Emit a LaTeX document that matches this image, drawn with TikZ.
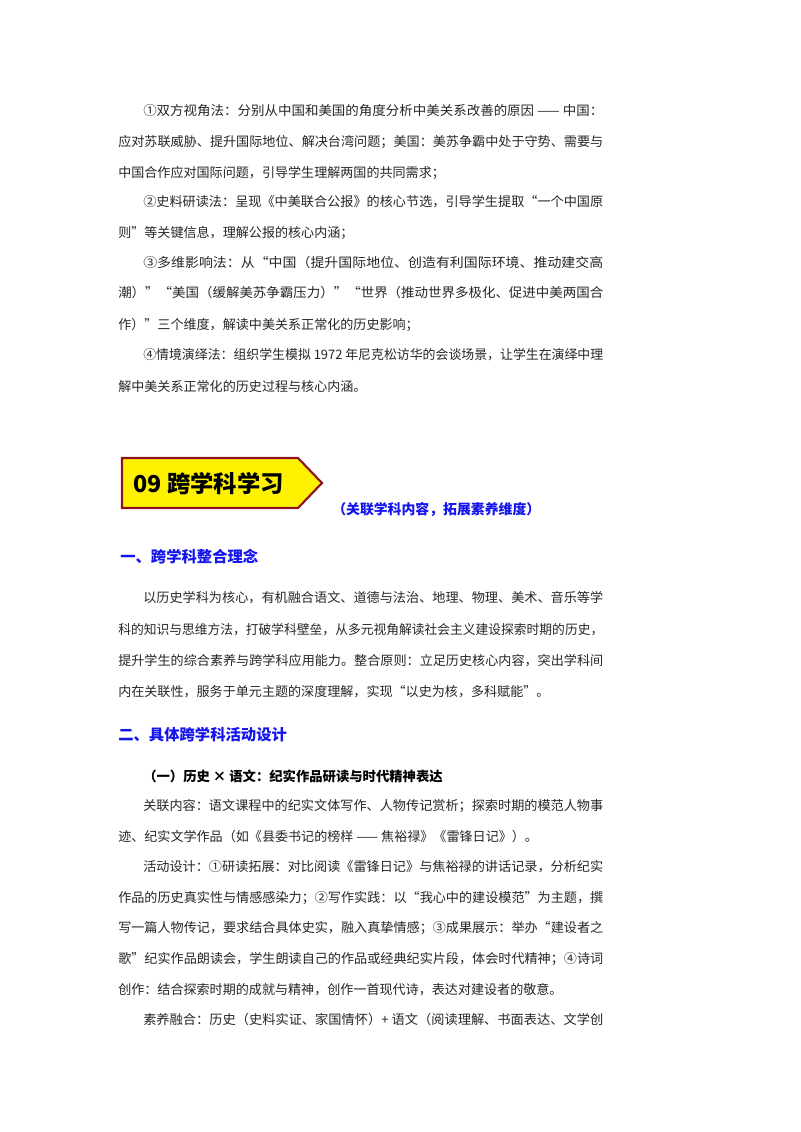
\documentclass[tikz,border=0pt]{standalone}
\usepackage{fontspec}
\setmainfont{Noto Sans CJK SC}
\definecolor{hblue}{RGB}{20,20,240}
\definecolor{bred}{RGB}{140,20,30}
\newcommand{\lnA}[1]{\resizebox{345pt}{\height}{#1}}
\newcommand{\lnB}[1]{\resizebox{363.75pt}{\height}{#1}}
\begin{document}
\begin{tikzpicture}[x=0.75pt,y=-0.75pt,
  body/.style={anchor=west,inner sep=0,font=\fontsize{9.8}{10}\selectfont,text=black!85},
  head/.style={anchor=west,inner sep=0,font=\fontsize{11.5}{12}\selectfont\bfseries,text=hblue},
  sub/.style={anchor=west,inner sep=0,font=\fontsize{10}{11}\selectfont\bfseries,text=black}]
\useasboundingbox (0,0) rectangle (800,1132);
\fill[white] (0,0) rectangle (800,1132);
\node[body] (t1) at (143,111) {\lnA{①双方视角法：分别从中国和美国的角度分析中美关系改善的原因 —— 中国：}};
\node[body] (t2) at (118,142) {\lnB{应对苏联威胁、提升国际地位、解决台湾问题；美国：美苏争霸中处于守势、需要与}};
\node[body] (t3) at (118,173) {中国合作应对国际问题，引导学生理解两国的共同需求；};
\node[body] (t4) at (143,202) {\lnA{②史料研读法：呈现《中美联合公报》的核心节选，引导学生提取“一个中国原}};
\node[body] (t5) at (118,233) {则”等关键信息，理解公报的核心内涵；};
\node[body] (t6) at (143,263) {\lnA{③多维影响法：从“中国（提升国际地位、创造有利国际环境、推动建交高}};
\node[body] (t7) at (118,293) {\lnB{潮）”“美国（缓解美苏争霸压力）”“世界（推动世界多极化、促进中美两国合}};
\node[body] (t8) at (118,325) {作）”三个维度，解读中美关系正常化的历史影响；};
\node[body] (t9) at (143,355) {\lnA{④情境演绎法：组织学生模拟 1972 年尼克松访华的会谈场景，让学生在演绎中理}};
\node[body] (t10) at (118,387) {解中美关系正常化的历史过程与核心内涵。};
% banner
\draw[fill=yellow,draw=bred,line width=1.6] (122,458) -- (298,458) -- (322,483) -- (298,508) -- (122,508) -- cycle;
\node[anchor=west,inner sep=0,font=\fontsize{17.5}{19}\selectfont\bfseries] (bt) at (133,484) {09 跨学科学习};
\node[anchor=west,inner sep=0,font=\fontsize{10.4}{11}\selectfont\bfseries,text=hblue] (bs) at (332,510) {（关联学科内容，拓展素养维度）};
\node[head] (h1) at (120,557) {一、跨学科整合理念};
\node[body] (p1) at (143,598) {\lnA{以历史学科为核心，有机融合语文、道德与法治、地理、物理、美术、音乐等学}};
\node[body] (p2) at (118,630) {\lnB{科的知识与思维方法，打破学科壁垒，从多元视角解读社会主义建设探索时期的历史，}};
\node[body] (p3) at (118,661) {\lnB{提升学生的综合素养与跨学科应用能力。整合原则：立足历史核心内容，突出学科间}};
\node[body] (p4) at (118,692) {内在关联性，服务于单元主题的深度理解，实现“以史为核，多科赋能”。};
\node[head] (h2) at (118,735) {二、具体跨学科活动设计};
\node[sub] (s1) at (143,776) {（一）历史 × 语文：纪实作品研读与时代精神表达};
\node[body] (q1) at (143,806) {\lnA{关联内容：语文课程中的纪实文体写作、人物传记赏析；探索时期的模范人物事}};
\node[body] (q2) at (118,837) {迹、纪实文学作品（如《县委书记的榜样 —— 焦裕禄》《雷锋日记》）。};
\node[body] (q3) at (143,867) {\lnA{活动设计：①研读拓展：对比阅读《雷锋日记》与焦裕禄的讲话记录，分析纪实}};
\node[body] (q4) at (118,898) {\lnB{作品的历史真实性与情感感染力；②写作实践：以“我心中的建设模范”为主题，撰}};
\node[body] (q5) at (118,928) {\lnB{写一篇人物传记，要求结合具体史实，融入真挚情感；③成果展示：举办“建设者之}};
\node[body] (q6) at (118,959) {\lnB{歌”纪实作品朗读会，学生朗读自己的作品或经典纪实片段，体会时代精神；④诗词}};
\node[body] (q7) at (118,990) {创作：结合探索时期的成就与精神，创作一首现代诗，表达对建设者的敬意。};
\node[body] (q8) at (143,1020) {\lnA{素养融合：历史（史料实证、家国情怀）+ 语文（阅读理解、书面表达、文学创}};
\end{tikzpicture}
\end{document}
